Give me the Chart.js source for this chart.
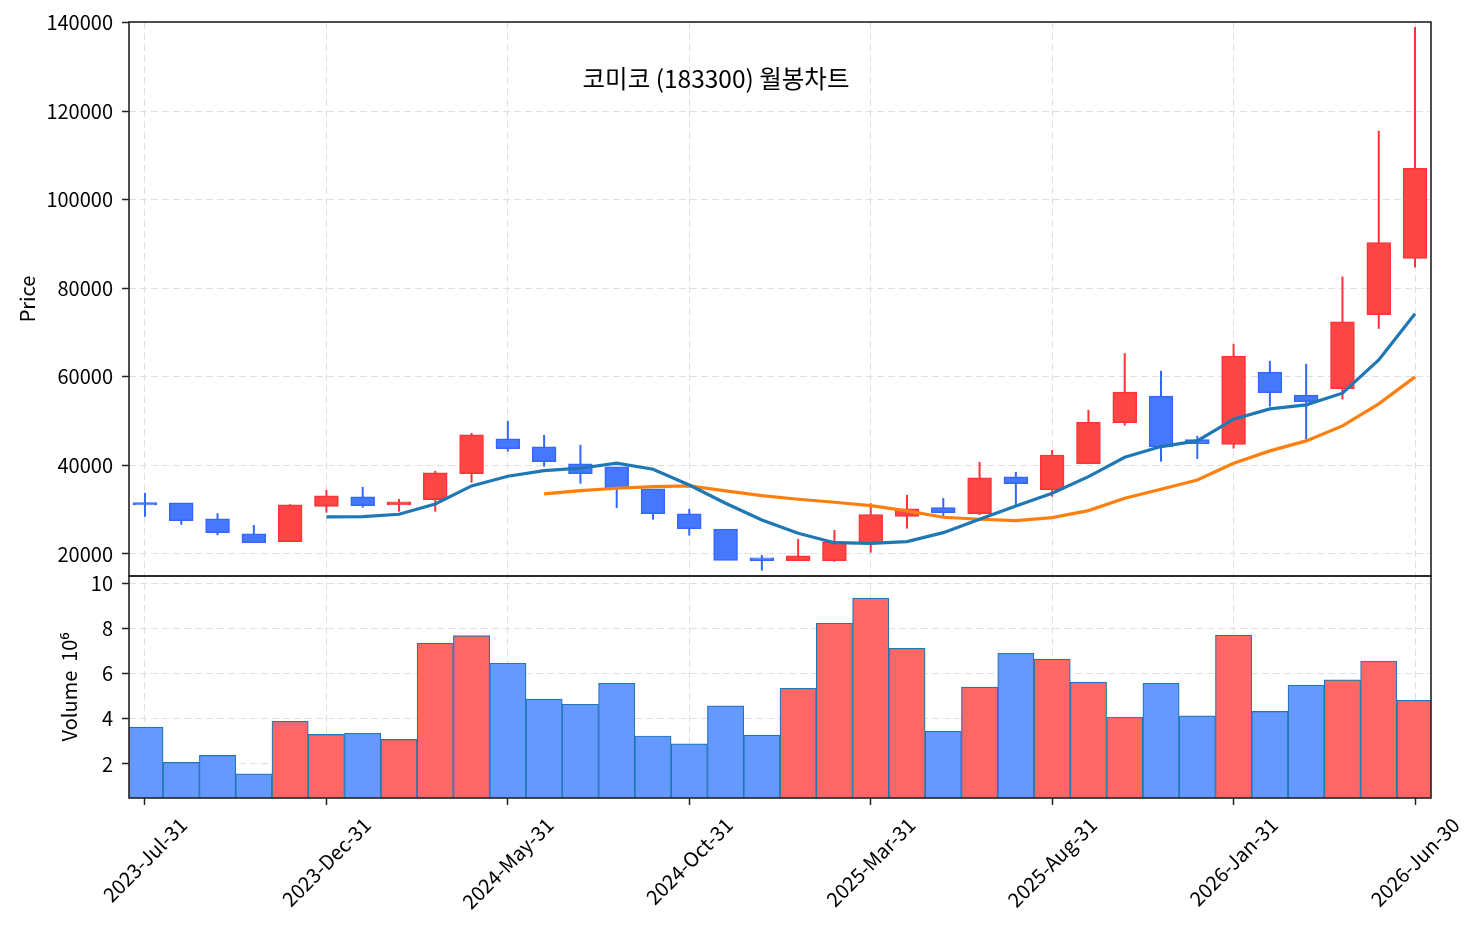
<!DOCTYPE html>
<html>
<head>
<meta charset="utf-8">
<script src="https://cdn.jsdelivr.net/npm/chart.js@4.4.1/dist/chart.umd.min.js"></script>
<style>
  html, body { margin: 0; padding: 0; background: #fff; }
  #wrap { width: 1480px; height: 931px; position: relative; }
</style>
</head>
<body>
<div id="wrap"><canvas id="myChart"></canvas></div>
<script>
// monthly candles, 2023-07 .. 2026-06
var months = [
  "2023-Jul-31", "2023-Aug-31", "2023-Sep-30", "2023-Oct-31", "2023-Nov-30", "2023-Dec-31",
  "2024-Jan-31", "2024-Feb-29", "2024-Mar-31", "2024-Apr-30", "2024-May-31", "2024-Jun-30",
  "2024-Jul-31", "2024-Aug-31", "2024-Sep-30", "2024-Oct-31", "2024-Nov-30", "2024-Dec-31",
  "2025-Jan-31", "2025-Feb-28", "2025-Mar-31", "2025-Apr-30", "2025-May-31", "2025-Jun-30",
  "2025-Jul-31", "2025-Aug-31", "2025-Sep-30", "2025-Oct-31", "2025-Nov-30", "2025-Dec-31",
  "2026-Jan-31", "2026-Feb-28", "2026-Mar-31", "2026-Apr-30", "2026-May-31", "2026-Jun-30"
];
var opens = [31500, 31460, 27840, 24450, 22870, 30850, 32800, 31150, 32360, 38240, 45920, 44110,
  40280, 39590, 34620, 28980, 25500, 19030, 18580, 18580, 22420, 28590, 30400, 29200,
  37330, 34620, 40500, 49750, 55560, 45760, 44860, 60970, 55790, 57440, 74170, 86820];
var highs = [33800, 31500, 29200, 26550, 31230, 34460, 35140, 32430, 38760, 47340, 50060, 46890,
  44630, 39600, 34620, 30170, 25500, 19770, 23390, 25420, 31460, 33330, 32660, 40790,
  38530, 43500, 52540, 65360, 61360, 46670, 67460, 63620, 62940, 82670, 115590, 139030];
var lows = [28400, 26600, 24230, 22600, 22800, 29330, 30460, 29560, 29560, 36110, 43130, 39730,
  35890, 30400, 27750, 24140, 18640, 16230, 18580, 18260, 20300, 25720, 28590, 28810,
  31070, 32950, 40500, 49000, 40860, 41470, 43800, 53290, 45910, 54880, 70850, 84700];
var closes = [31200, 27600, 24900, 22640, 31000, 33040, 31000, 31700, 38240, 46820, 43880, 40950,
  38240, 34850, 29200, 25810, 18640, 18580, 19480, 22640, 28810, 30100, 29420, 37110,
  35980, 42220, 49670, 56450, 44260, 45010, 64580, 56530, 54500, 72360, 90210, 107010];
// volume in millions
var volumes = [3.63, 2.07, 2.38, 1.56, 3.89, 3.31, 3.36, 3.09, 7.35, 7.68, 6.46, 4.87,
  4.64, 5.57, 3.24, 2.89, 4.57, 3.28, 5.35, 8.23, 9.34, 7.12, 3.45, 5.40,
  6.90, 6.64, 5.62, 4.08, 5.57, 4.13, 7.70, 4.33, 5.49, 5.72, 6.56, 4.82];
// moving averages as drawn
var maShortStart = 5;
var maShort = [28360, 28430, 28970, 31300, 35370, 37560, 38830, 39370, 40500, 39140, 35590,
  31460, 27680, 24680, 22550, 22410, 22780, 24810, 27840, 30850, 33720, 37470, 41850,
  44260, 45540, 50440, 52770, 53670, 56320, 63840, 74240];
var maLongStart = 11;
var maLong = [33560, 34300, 34850, 35210, 35370, 34240, 33180, 32360, 31680, 30920, 29720,
  28290, 27840, 27530, 28200, 29790, 32590, 34620, 36720, 40500, 43280, 45540, 48930,
  53900, 60000];

var priceTicks = [20000, 40000, 60000, 80000, 100000, 120000, 140000];
var volTicks = [2, 4, 6, 8, 10];
var xTickIdx = [0, 5, 10, 15, 20, 25, 30, 35];
var titleText = "코미코 (183300) 월봉차트";

var FONT = "'Noto Sans CJK KR', 'Noto Sans', sans-serif";
Chart.defaults.font.family = FONT;
Chart.defaults.color = "#000";

var up = closes.map((c, i) => c >= opens[i]);
var bodyFill = up.map((u) => (u ? "#ff4646" : "#4677ff"));
var bodyEdge = up.map((u) => (u ? "#ff3333" : "#3366ff"));
var volFill = up.map((u) => (u ? "#ff6666" : "#6699ff"));

var gridCommon = {
  color: "#e0e0e0",
  lineWidth: 1,
  borderDash: [7, 4],
  offset: false,
  tickColor: "#222",
  tickWidth: 1.5,
  tickLength: 7,
  tickBorderDash: [],
};

var decor = {
  id: "decor",
  afterDraw(chart) {
    var ctx = chart.ctx;
    var a = chart.chartArea;
    var xs = chart.scales.x, ys = chart.scales.y, yv = chart.scales.yv;
    ctx.save();
    ctx.strokeStyle = "#222";
    ctx.lineWidth = 1.6;
    ctx.strokeRect(a.left, ys.top, a.right - a.left, ys.bottom - ys.top);
    ctx.strokeRect(a.left, yv.top, a.right - a.left, yv.bottom - yv.top);

    // rotated date labels, box centred on the tick
    ctx.fillStyle = "#000";
    ctx.font = "20px " + FONT;
    ctx.textAlign = "center";
    ctx.textBaseline = "middle";
    xTickIdx.forEach((i) => {
      var label = months[i];
      var w = ctx.measureText(label).width;
      var px = xs.getPixelForValue(i);
      var cy = a.bottom + 17 + (w + 18) * 0.3536;
      ctx.save();
      ctx.translate(px, cy);
      ctx.rotate(-Math.PI / 4);
      ctx.fillText(label, 0, 0);
      ctx.restore();
    });

    ctx.font = "24.5px " + FONT;
    ctx.fillText(titleText, 716, 79);
    ctx.restore();
  },
};

var ctx = document.getElementById("myChart").getContext("2d");
var chart = new Chart(ctx, {
  type: "bar",
  data: {
    datasets: [
      {
        type: "line",
        data: maShort.map((v, i) => ({ x: maShortStart + i, y: v })),
        borderColor: "#1f77b4",
        borderWidth: 3.2,
        pointRadius: 0,
        tension: 0,
        yAxisID: "y",
        order: 0,
      },
      {
        type: "line",
        data: maLong.map((v, i) => ({ x: maLongStart + i, y: v })),
        borderColor: "#ff7f0e",
        borderWidth: 3.2,
        pointRadius: 0,
        tension: 0,
        yAxisID: "y",
        order: 0,
      },
      {
        data: opens.map((o, i) => ({ x: i, y: [o, closes[i]] })),
        backgroundColor: bodyFill,
        borderColor: bodyEdge,
        borderWidth: 1.5,
        borderSkipped: false,
        barThickness: 23,
        inflateAmount: 0.75,
        grouped: false,
        yAxisID: "y",
        order: 1,
      },
      {
        data: lows.map((l, i) => ({ x: i, y: [l, highs[i]] })),
        backgroundColor: bodyEdge,
        borderWidth: 0,
        barThickness: 2,
        inflateAmount: 0,
        grouped: false,
        yAxisID: "y",
        order: 2,
      },
      {
        data: volumes.map((v, i) => ({ x: i, y: v })),
        backgroundColor: volFill,
        borderColor: "#1f77b4",
        borderWidth: 1.2,
        borderSkipped: false,
        barPercentage: 1,
        categoryPercentage: 1,
        grouped: false,
        yAxisID: "yv",
        order: 3,
      },
    ],
  },
  options: {
    responsive: true,
    maintainAspectRatio: false,
    animation: false,
    layout: { padding: { left: 0, top: 22, right: 49, bottom: 0 } },
    plugins: {
      legend: { display: false },
      tooltip: { enabled: false },
    },
    scales: {
      x: {
        type: "linear",
        position: "bottom",
        offset: false,
        min: -0.44,
        max: 35.44,
        afterBuildTicks: (s) => {
          s.ticks = xTickIdx.map((v) => ({ value: v }));
        },
        afterFit: (s) => {
          s.height = 133;
        },
        ticks: { autoSkip: false, maxRotation: 0, callback: () => "" },
        grid: gridCommon,
        border: { display: false, dash: [7, 4] },
      },
      yv: {
        type: "linear",
        position: "left",
        stack: "panels",
        stackWeight: 222,
        min: 0.495,
        max: 10.32,
        afterBuildTicks: (s) => {
          s.ticks = volTicks.map((v) => ({ value: v }));
        },
        afterFit: (s) => {
          s.width = 129;
        },
        ticks: { font: { size: 20 }, padding: 9, callback: (v) => String(v) },
        grid: gridCommon,
        border: { display: false, dash: [7, 4] },
        title: { display: true, text: "Volume  10⁶", font: { size: 20 }, padding: { top: 57, bottom: 0 } },
      },
      y: {
        type: "linear",
        position: "left",
        stack: "panels",
        stackWeight: 554,
        min: 15025,
        max: 140150,
        afterBuildTicks: (s) => {
          s.ticks = priceTicks.map((v) => ({ value: v }));
        },
        afterFit: (s) => {
          s.width = 129;
        },
        ticks: { font: { size: 20 }, padding: 9, callback: (v) => String(v) },
        grid: gridCommon,
        border: { display: false, dash: [7, 4] },
        title: { display: true, text: "Price", font: { size: 20 }, padding: { top: 15, bottom: 0 } },
      },
    },
  },
  plugins: [decor],
});
</script>
</body>
</html>
